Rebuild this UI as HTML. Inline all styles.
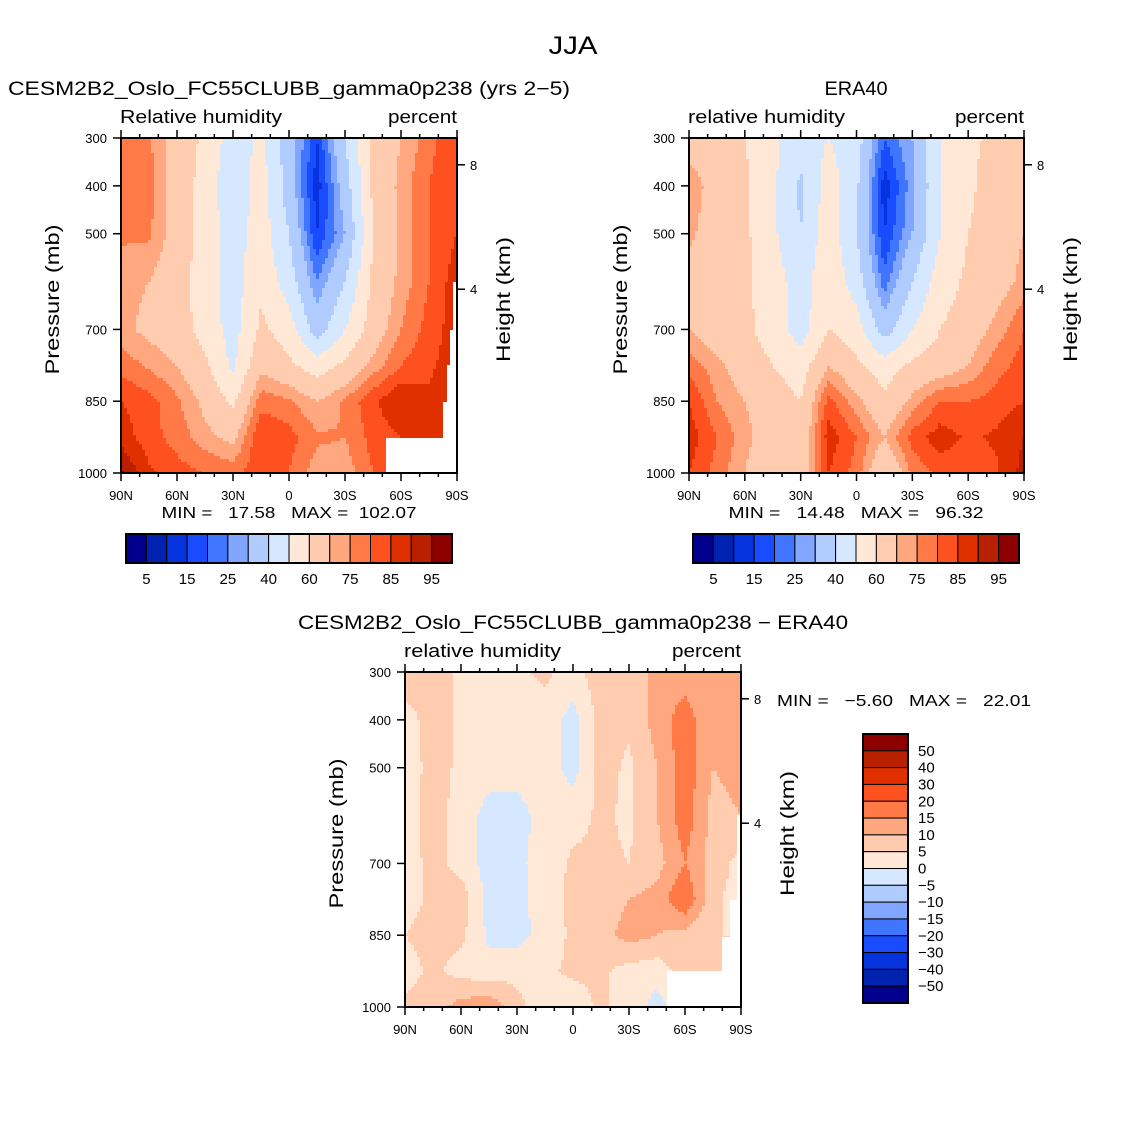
<!DOCTYPE html>
<html><head><meta charset="utf-8">
<style>
html,body{margin:0;padding:0;background:#fff;}
svg{display:block;font-family:"Liberation Sans",sans-serif;}
text{white-space:pre;}
</style></head>
<body>
<svg id="chart" width="1146" height="1146" viewBox="0 0 1146 1146" xmlns="http://www.w3.org/2000/svg">
<rect x="0" y="0" width="1146" height="1146" fill="#fff"/>
<text x="573" y="54" font-size="25" text-anchor="middle" textLength="49" lengthAdjust="spacingAndGlyphs">JJA</text>
</svg>
<script>
// ---- data ----
const lats = [90,75,60,45,30,15,0,-15,-30,-45,-60,-75,-90];
const pressures = [300,400,500,600,700,775,850,925,1000];
const absLevels = [5,10,15,20,25,30,40,50,60,70,75,80,85,90,95];
const absTickLabels = ["5","15","25","40","60","75","85","95"];
const diffLevels = [-50,-40,-30,-20,-15,-10,-5,0,5,10,15,20,30,40,50];
const diffTickLabels = ["50","40","30","20","15","10","5","0","−5","−10","−15","−20","−30","−40","−50"];
const palette = ["#00008c","#0022b0","#0533dd","#1a4cff","#4076ff","#80a6ff","#b0ccff","#d6e8ff","#ffe8d6","#ffccb0","#ffa880","#ff7a47","#ff5020","#e03000","#b82000","#8c0000"];
const modelRH = [
 [77,76,66,58,45,52,35,15,40,62,70,78,85],
 [77,77,66,56,42,55,35,12,35,62,72,80,85],
 [76,76,66,56,45,55,40,15,30,60,72,80,85],
 [72,70,64,55,45,58,45,25,40,62,72,80,88],
 [72,68,65,56,46,62,55,35,50,65,75,82,88],
 [78,74,70,62,48,68,62,55,62,72,80,84,88],
 [85,82,76,68,58,78,76,70,76,84,90,86,88],
 [88,82,78,72,68,85,82,76,75,82,85,85,85],
 [96,86,82,80,78,84,80,72,72,80,80,80,80]
];
const eraRH = [
 [65,62,60,52,45,50,45,20,30,50,58,62,68],
 [75,65,62,52,38,55,42,12,28,50,58,65,70],
 [72,64,62,52,40,56,40,15,30,50,60,65,70],
 [66,64,62,55,45,58,45,22,40,55,62,66,72],
 [70,65,62,56,45,60,55,35,50,60,65,72,80],
 [78,72,65,60,55,70,62,55,62,65,70,78,82],
 [85,75,70,65,60,82,72,62,72,80,80,82,85],
 [88,80,72,65,62,88,80,70,82,88,84,86,90],
 [85,78,70,62,62,85,78,60,76,82,80,84,92]
];
const diffRH = [
 [8,7,4,3,4,6,3,8,6,12,12,10,12],
 [3,7,4,2,3,3,-2,7,6,12,18,10,12],
 [2,7,4,2,2,3,-2,7,4,10,18,10,12],
 [3,7,3,-2,-2,2,3,6,4,10,18,8,10],
 [2,7,3,-2,-1,2,6,6,5,8,15,8,3],
 [3,6,8,-2,-2,3,6,7,10,12,20,6,3],
 [5,7,6,-1,-2,2,6,8,12,10,8,5,5],
 [3,6,3,2,4,4,6,6,3,2,8,8,8],
 [6,8,12,14,6,3,2,6,3,-2,3,3,3]
];
const latTickVals = [90,60,30,0,-30,-60,-90];
const latTickLabels = ["90N","60N","30N","0","30S","60S","90S"];
const presTickVals = [300,400,500,700,850,1000];
const heightTickVals = [8,4];
const heightTickPres = [356,616];

// ---- helpers ----
const NS="http://www.w3.org/2000/svg";
const svg=document.getElementById('chart');
function mk(tag,attrs,parent){const e=document.createElementNS(NS,tag);for(const k in attrs)e.setAttribute(k,attrs[k]);(parent||svg).appendChild(e);return e;}
function txt(x,y,s,size,anchor,parent,extra){const t=mk('text',Object.assign({x:x,y:y,'font-size':size,'text-anchor':anchor||'start'},extra||{}),parent);t.textContent=s;return t;}
function fit(len){return {textLength:len,lengthAdjust:'spacingAndGlyphs'};}
function colorFor(v,levels){let i=0;while(i<levels.length&&v>=levels[i])i++;return palette[i];}

function drawPanel(P){
  const g=mk('g',{});
  
  
  const xs=lat=>P.x+(90-lat)/180*P.w;
  const ys=p=>P.y+(p-300)/700*P.h;
  const field=mk('g',{'shape-rendering':'crispEdges'},g);
  
  
  const st=3;
  const ncol=Math.ceil(P.w/st);
  for(let py=0;py<P.h;py+=st){
    const p=300+(py+st/2)/P.h*700;
    let r=0;while(r<pressures.length-2&&p>pressures[r+1])r++;
    const tr=Math.min(1,Math.max(0,(p-pressures[r])/(pressures[r+1]-pressures[r])));
    const hh=Math.min(st,P.h-py);
    let runStart=0,runCol=null;
    for(let k=0;k<=ncol;k++){
      const px=Math.min(k*st,P.w);
      let col=null;
      if(k<ncol){
        const lat=90-(px+st/2)/P.w*180;
        let c=0;while(c<lats.length-2&&lat<lats[c+1])c++;
        const tc=Math.min(1,Math.max(0,(lats[c]-lat)/(lats[c]-lats[c+1])));
        const D=P.data;
        const v=(1-tr)*((1-tc)*D[r][c]+tc*D[r][c+1])+tr*((1-tc)*D[r+1][c]+tc*D[r+1][c+1]);
        col=colorFor(v,P.levels);
      }
      if(col!==runCol){
        if(runCol!==null){
          const re=mk('rect',{x:P.x+runStart,y:P.y+py,width:px-runStart,height:hh,fill:runCol},field);
          
          
        }
        runStart=px;runCol=col;
      }
    }
  }
  if(P.mask){const m=mk('polygon',{points:P.mask,fill:'#fff'},g);
    }
  const fr=mk('rect',{x:P.x,y:P.y,width:P.w,height:P.h,fill:'none',stroke:'#000','stroke-width':2},g);
  
  for(let lat=90;lat>=-90;lat-=10){
    const major=lat%30===0;const L=major?8:4;const x=xs(lat);
    mk('line',{x1:x,x2:x,y1:P.y+P.h,y2:P.y+P.h+L,stroke:'#000','stroke-width':1.5},g);
    mk('line',{x1:x,x2:x,y1:P.y,y2:P.y-L,stroke:'#000','stroke-width':1.5},g);
  }
  latTickVals.forEach((v,i)=>{const t=txt(xs(v),P.y+P.h+27,latTickLabels[i],13,'middle',g);
    });
  presTickVals.forEach(p=>{const y=ys(p);
    mk('line',{x1:P.x,x2:P.x-8,y1:y,y2:y,stroke:'#000','stroke-width':1.5},g);
    const t=txt(P.x-14,y+5,String(p),13,'end',g);
    });
  heightTickVals.forEach((h,i)=>{const y=ys(heightTickPres[i]);
    mk('line',{x1:P.x+P.w,x2:P.x+P.w+8,y1:y,y2:y,stroke:'#000','stroke-width':1.5},g);
    const t=txt(P.x+P.w+13,y+5,String(h),13,'start',g);
    });
  const yt=txt(0,0,'Pressure (mb)',19,'middle',g,Object.assign({transform:`translate(${P.x-62},${P.y+P.h/2-6}) rotate(-90)`},fit(150)));
  
  const ht=txt(0,0,'Height (km)',19,'middle',g,Object.assign({transform:`translate(${P.x+P.w+53},${P.y+P.h/2-6}) rotate(-90)`},fit(125)));
  
  const s1=txt(P.x-1,P.y-15,P.var,18,'start',g,fit(P.varLen));
  
  const s2=txt(P.x+P.w,P.y-15,'percent',18,'end',g,fit(69));
  
  const tt=txt(P.tx,P.y-43,P.title,19,'middle',g,fit(P.titleLen));
  
  return g;
}

function hBar(x,y,w,h,levels,labels){
  const g=mk('g',{});
  
  
  const bw=w/palette.length;
  palette.forEach((c,i)=>{const r=mk('rect',{x:x+i*bw,y:y,width:bw,height:h,fill:c,stroke:'#000','stroke-width':1},g);
    });
  mk('rect',{x:x,y:y,width:w,height:h,fill:'none',stroke:'#000','stroke-width':2},g);
  labels.forEach((s,k)=>{const t=txt(x+(2*k+1)*bw,y+50,s,15,'middle',g);
    });
}
function vBar(x,y,w,h,labels){
  const g=mk('g',{});
  
  
  const bh=h/palette.length;
  palette.slice().reverse().forEach((c,i)=>{const r=mk('rect',{x:x,y:y+i*bh,width:w,height:bh,fill:c,stroke:'#000','stroke-width':1},g);
    });
  mk('rect',{x:x,y:y,width:w,height:h,fill:'none',stroke:'#000','stroke-width':2},g);
  labels.forEach((s,k)=>{const t=txt(x+w+10,y+(k+1)*bh+5,s,15,'start',g);
    });
}

drawPanel({name:'model-panel',x:121,y:138,w:336,h:335,data:modelRH,levels:absLevels,var:'Relative humidity',varLen:162,
  title:'CESM2B2_Oslo_FC55CLUBB_gamma0p238 (yrs 2−5)',tx:289,titleLen:562,
  mask:'457,282 453,282 453,330 450,330 450,365 447,365 447,402 443,402 443,438 386,438 386,473 457,473'});
drawPanel({name:'era40-panel',x:689,y:138,w:335,h:335,data:eraRH,levels:absLevels,var:'relative humidity',varLen:157,title:'ERA40',tx:856,titleLen:63});
drawPanel({name:'difference-panel',x:405,y:672,w:336,h:335,data:diffRH,levels:diffLevels,var:'relative humidity',varLen:157,
  title:'CESM2B2_Oslo_FC55CLUBB_gamma0p238 − ERA40',tx:573,titleLen:550,
  mask:'741,815 737,815 737,900 730,900 730,937 722,937 722,971 667,971 667,1007 741,1007'});

let m1=txt(289,518,'MIN =   17.58   MAX =  102.07',16,'middle',svg,fit(255));

let m2=txt(856,518,'MIN =   14.48   MAX =   96.32',16,'middle',svg,fit(255));

let m3=txt(777,706,'MIN =   −5.60   MAX =   22.01',16,'start',svg,fit(254));


hBar(126,534,326,29,absLevels,absTickLabels);
hBar(693,534,326,29,absLevels,absTickLabels);
vBar(863,734,45,269,diffTickLabels);
</script>
</body></html>
